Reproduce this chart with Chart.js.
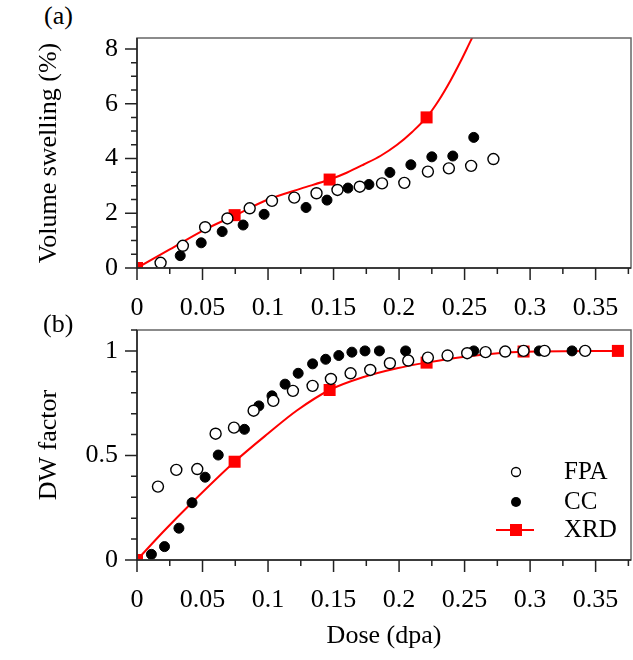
<!DOCTYPE html>
<html>
<head>
<meta charset="utf-8">
<script src="https://cdn.jsdelivr.net/npm/chart.js@4.4.1/dist/chart.umd.min.js"></script>
<style>
  body { margin: 0; background: #fff; width: 633px; height: 660px; position: relative; overflow: hidden; font-family: "Liberation Serif", "Times New Roman", serif; }
  canvas { position: absolute; left: 0; }
  #chartA { top: 0; }
  #chartB { top: 320px; }
  .tag { position: absolute; font-size: 26px; line-height: 1; color: #000; }
</style>
</head>
<body>
<span class="tag" style="left:44px;top:3px">(a)</span>
<canvas id="chartA" width="633" height="320"></canvas>
<canvas id="chartB" width="633" height="340"></canvas>
<span class="tag" style="left:43px;top:311px">(b)</span>
<script>
// panel (a): volume swelling (%)
const doseFpaA = [0.018, 0.035, 0.052, 0.069, 0.086, 0.103, 0.120, 0.137, 0.153, 0.170, 0.187, 0.204, 0.222, 0.238, 0.255, 0.272];
const swellFpa = [0.19, 0.81, 1.49, 1.81, 2.18, 2.45, 2.57, 2.73, 2.85, 2.97, 3.09, 3.11, 3.52, 3.64, 3.73, 3.98];
const doseCcA = [0.033, 0.049, 0.065, 0.081, 0.097, 0.129, 0.145, 0.161, 0.177, 0.193, 0.209, 0.225, 0.241, 0.257];
const swellCc = [0.45, 0.92, 1.33, 1.57, 1.96, 2.21, 2.48, 2.92, 3.05, 3.49, 3.77, 4.06, 4.09, 4.77];
const doseXrd = [0, 0.0745, 0.147, 0.221, 0.295, 0.367];
const swellXrd = [0, 1.93, 3.23, 5.5];
const doseXrdCurveA = [0, 0.025, 0.05, 0.075, 0.1, 0.125, 0.147, 0.16, 0.173, 0.186, 0.1985, 0.21, 0.221, 0.23, 0.2393, 0.247, 0.2551, 0.26];
const swellXrdCurve = [0, 0.68, 1.36, 1.93, 2.5, 2.9, 3.23, 3.48, 3.78, 4.1, 4.5, 4.97, 5.5, 6.1, 6.85, 7.55, 8.34, 8.8];

// panel (b): DW factor
const doseFpaB = [0.016, 0.030, 0.046, 0.060, 0.074, 0.089, 0.104, 0.119, 0.134, 0.148, 0.163, 0.178, 0.193, 0.207, 0.222, 0.237, 0.252, 0.266, 0.281, 0.295, 0.311, 0.342];
const dwFpa = [0.351, 0.431, 0.435, 0.604, 0.633, 0.714, 0.761, 0.809, 0.833, 0.866, 0.893, 0.909, 0.941, 0.954, 0.968, 0.978, 0.989, 0.994, 0.997, 1.0, 1.0, 1.0];
const doseCcB = [0.011, 0.021, 0.032, 0.042, 0.052, 0.062, 0.082, 0.093, 0.103, 0.113, 0.123, 0.134, 0.144, 0.154, 0.164, 0.174, 0.185, 0.205, 0.257, 0.307, 0.332];
const dwCc = [0.027, 0.064, 0.152, 0.274, 0.396, 0.502, 0.625, 0.737, 0.785, 0.841, 0.893, 0.938, 0.960, 0.978, 0.994, 1.0, 1.0, 1.0, 1.0, 1.0, 1.0];
const dwXrd = [0, 0.47, 0.813, 0.944, 0.997, 1.0];
const doseXrdCurveB = [0, 0.02, 0.042, 0.0745, 0.1, 0.122, 0.147, 0.173, 0.1985, 0.221, 0.25, 0.295, 0.367];
const dwXrdCurve = [0, 0.135, 0.275, 0.47, 0.605, 0.715, 0.813, 0.875, 0.917, 0.944, 0.972, 0.996, 1.0];

// axes
const doseTicks = [0, 0.05, 0.1, 0.15, 0.2, 0.25, 0.3, 0.35];
const swellTicks = [0, 2, 4, 6, 8];
const dwTicks = [0, 0.5, 1];
const legendLabels = ["FPA", "CC", "XRD"];

const FONT = '"Liberation Serif", "Times New Roman", serif';
const RED = "#ff0000";
Chart.defaults.font.family = FONT;
Chart.defaults.font.size = 26;
Chart.defaults.color = "#000";

function pairs(xs, ys) {
    return ys.map((y, i) => ({ x: xs[i], y: y }));
}

// major ticks labelled, minor ticks in between
function buildTicks(step, max) {
    const list = [];
    for (let i = 0; i * step <= max + 1e-9; i++) {
        list.push({ value: Math.round(i * step * 1e6) / 1e6 });
    }
    return function (scale) { scale.ticks = list; };
}
function labelFor(majors) {
    return function (v) {
        const m = majors.find(t => Math.abs(t - v) < 1e-6);
        return m === undefined ? "" : String(m);
    };
}

const axisFrame = {
    id: "axisFrame",
    afterDraw(chart) {
        const { ctx, chartArea: a, scales: { x, y } } = chart;
        ctx.save();
        ctx.lineWidth = 1.5;
        ctx.strokeStyle = "#666";
        ctx.strokeRect(a.left, a.top, a.right - a.left, a.bottom - a.top);
        ctx.strokeStyle = "#222";
        ctx.beginPath();
        ctx.moveTo(a.left, a.top);
        ctx.lineTo(a.left, a.bottom);
        ctx.lineTo(a.right, a.bottom);
        x.ticks.forEach(t => {
            const px = x.getPixelForValue(t.value);
            const len = t.label ? 12 : 6;
            ctx.moveTo(px, a.bottom);
            ctx.lineTo(px, a.bottom + len);
        });
        y.ticks.forEach(t => {
            const py = y.getPixelForValue(t.value);
            const len = t.label ? 12 : 6;
            ctx.moveTo(a.left, py);
            ctx.lineTo(a.left - len, py);
        });
        ctx.stroke();
        ctx.restore();
    }
};

const markerLegend = {
    id: "markerLegend",
    afterDraw(chart) {
        const { ctx, chartArea: a } = chart;
        const mx = a.right - 115;
        const tx = a.right - 67;
        const rows = [a.bottom - 88, a.bottom - 58, a.bottom - 30];
        ctx.save();
        // FPA
        ctx.beginPath();
        ctx.arc(mx, rows[0], 4.5, 0, Math.PI * 2);
        ctx.fillStyle = "#fff";
        ctx.fill();
        ctx.lineWidth = 1.3;
        ctx.strokeStyle = "#000";
        ctx.stroke();
        // CC
        ctx.beginPath();
        ctx.arc(mx, rows[1], 5, 0, Math.PI * 2);
        ctx.fillStyle = "#000";
        ctx.fill();
        // XRD
        ctx.beginPath();
        ctx.moveTo(mx - 20, rows[2]);
        ctx.lineTo(mx + 18, rows[2]);
        ctx.strokeStyle = RED;
        ctx.lineWidth = 2;
        ctx.stroke();
        ctx.fillStyle = RED;
        ctx.fillRect(mx - 6, rows[2] - 6, 12, 12);

        ctx.fillStyle = "#000";
        ctx.font = "25px " + FONT;
        ctx.textBaseline = "middle";
        ctx.textAlign = "left";
        legendLabels.forEach((lab, i) => ctx.fillText(lab, tx, rows[i]));
        ctx.restore();
    }
};

function datasets(fpa, cc, xrd, curve) {
    return [
        { label: "FPA", data: fpa, pointStyle: "circle", pointRadius: 5.5, pointBackgroundColor: "#fff", pointBorderColor: "#000", pointBorderWidth: 1.4, showLine: false },
        { label: "CC", data: cc, pointStyle: "circle", pointRadius: 5, pointBackgroundColor: "#000", pointBorderColor: "#000", pointBorderWidth: 1, showLine: false },
        { label: "XRD", data: xrd, pointStyle: "rect", pointRadius: 8.5, pointBackgroundColor: RED, pointBorderWidth: 0, showLine: false, clip: 0 },
        { label: "XRD fit", data: curve, showLine: true, pointRadius: 0, borderColor: RED, borderWidth: 2, cubicInterpolationMode: "monotone", clip: 0 }
    ];
}

function makeOptions(cfg) {
    return {
        responsive: false,
        animation: false,
        layout: { autoPadding: false, padding: { top: cfg.padTop, right: 2, left: 0, bottom: 0 } },
        plugins: { legend: { display: false }, tooltip: { enabled: false } },
        scales: {
            x: {
                type: "linear", min: 0, max: 0.377,
                afterBuildTicks: buildTicks(0.025, 0.377),
                afterFit: s => { s.height = cfg.xHeight; s.paddingLeft = 0; s.paddingRight = 0; },
                grid: { display: false, drawTicks: false },
                border: { display: false },
                ticks: { autoSkip: false, maxRotation: 0, padding: 25, callback: labelFor(doseTicks), color: "#000" },
                title: cfg.xTitle ? { display: true, text: cfg.xTitle, padding: { top: 0, bottom: 8 } } : { display: false }
            },
            y: {
                type: "linear", min: 0, max: cfg.yMax,
                afterBuildTicks: buildTicks(cfg.yMinor, cfg.yMax),
                afterFit: s => { s.width = 137; s.paddingTop = 0; s.paddingBottom = 0; },
                grid: { display: false, drawTicks: false },
                border: { display: false },
                ticks: { autoSkip: false, padding: 19, callback: labelFor(cfg.yTicks), color: "#000" },
                title: { display: true, text: cfg.yTitle, padding: { top: 34, bottom: 0 } }
            }
        }
    };
}

new Chart(document.getElementById("chartA"), {
    type: "scatter",
    data: { datasets: datasets(pairs(doseFpaA, swellFpa), pairs(doseCcA, swellCc), pairs(doseXrd, swellXrd), pairs(doseXrdCurveA, swellXrdCurve)) },
    options: makeOptions({ padTop: 38, xHeight: 52, yMax: 8.4, yTicks: swellTicks, yMinor: 0.5, yTitle: "Volume swelling (%)" }),
    plugins: [axisFrame]
});

new Chart(document.getElementById("chartB"), {
    type: "scatter",
    data: { datasets: datasets(pairs(doseFpaB, dwFpa), pairs(doseCcB, dwCc), pairs(doseXrd, dwXrd), pairs(doseXrdCurveB, dwXrdCurve)) },
    options: makeOptions({ padTop: 10, xHeight: 100, yMax: 1.1, yTicks: dwTicks, yMinor: 0.1, yTitle: "DW factor", xTitle: "Dose (dpa)" }),
    plugins: [axisFrame, markerLegend]
});
</script>
</body>
</html>
